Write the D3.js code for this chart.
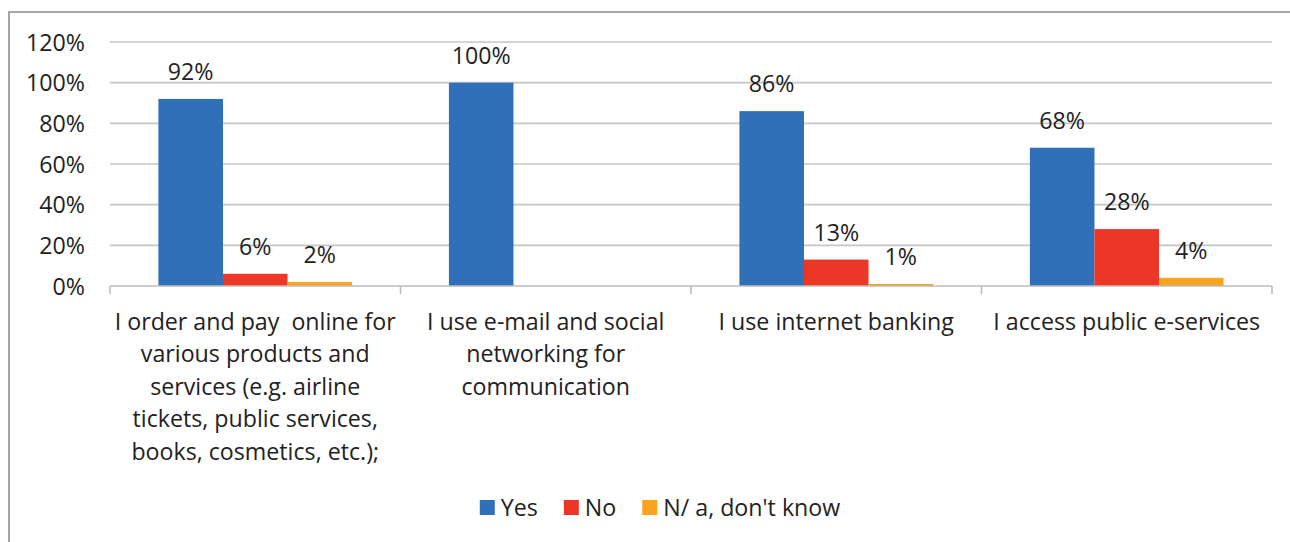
<!DOCTYPE html>
<html>
<head>
<meta charset="utf-8">
<script src="https://cdn.jsdelivr.net/npm/d3@7"></script>
<style>
  html, body { margin: 0; padding: 0; background: #fff; }
  svg { display: block; font-family: "Open Sans", "Noto Sans", sans-serif; }
</style>
</head>
<body>
<svg id="chart" width="1290" height="542"></svg>
<script>
// Survey answers per online activity (percent of respondents)
const categories = [
  ["I order and pay  online for", "various products and", "services (e.g. airline", "tickets, public services,", "books, cosmetics, etc.);"],
  ["I use e-mail and social", "networking for", "communication"],
  ["I use internet banking"],
  ["I access public e-services"]
];
const seriesNames = ["Yes", "No", "N/ a, don't know"];
const yesValues = [92, 100, 86, 68];
const noValues = [6, 0, 13, 28];
const naValues = [2, 0, 1, 4];
const yTicks = [0, 20, 40, 60, 80, 100, 120];
const colors = ["#3070b8", "#ec3726", "#f8a41f"];

const series = [yesValues, noValues, naValues];
const catKeys = categories.map((c, i) => "c" + i);

const svg = d3.select("#chart");
const plotLeft = 110, plotRight = 1272, plotTop = 42, plotBottom = 286;
const fontSize = 23.2;
const textColor = "#222";

// outer frame of the chart area (continues past the right and bottom edges)
svg.append("path")
  .attr("d", "M9,560 L9,12 L1300,12")
  .attr("fill", "none").attr("stroke", "#a6a6a6").attr("stroke-width", 2);

const y = d3.scaleLinear().domain([0, 120]).range([plotBottom, plotTop]);
const x0 = d3.scaleBand().domain(catKeys).range([plotLeft, plotRight]).paddingInner(0).paddingOuter(0);
const x1 = d3.scaleBand().domain(d3.range(series.length)).range([0, x0.bandwidth()]).paddingInner(0).paddingOuter(0.75);

// horizontal gridlines
svg.append("g").selectAll("line").data(yTicks.filter(t => t > 0)).join("line")
  .attr("x1", plotLeft).attr("x2", plotRight)
  .attr("y1", d => y(d)).attr("y2", d => y(d))
  .attr("stroke", "#c6c6c6").attr("stroke-width", 1.6);

// y tick labels
svg.append("g").selectAll("text").data(yTicks).join("text")
  .attr("x", 85).attr("y", d => y(d) + 8.5)
  .attr("text-anchor", "end")
  .attr("font-size", fontSize).attr("fill", textColor)
  .text(d => d + "%");

// bars with value labels
const groups = svg.append("g").selectAll("g").data(catKeys).join("g")
  .attr("transform", k => `translate(${x0(k)},0)`);

groups.each(function(k, ci) {
  const g = d3.select(this);
  series.forEach((vals, si) => {
    const v = vals[ci];
    if (v > 0) {
      g.append("rect")
        .attr("x", x1(si)).attr("width", x1.bandwidth())
        .attr("y", y(v)).attr("height", y(0) - y(v))
        .attr("fill", colors[si]);
      g.append("text")
        .attr("x", x1(si) + x1.bandwidth() / 2)
        .attr("y", y(v) - 19)
        .attr("text-anchor", "middle")
        .attr("font-size", fontSize).attr("fill", textColor)
        .text(v + "%");
    }
  });
});

// x axis line and category boundary ticks
svg.append("line")
  .attr("x1", plotLeft).attr("x2", plotRight).attr("y1", y(0)).attr("y2", y(0))
  .attr("stroke", "#bdbdbd").attr("stroke-width", 1.6);
const boundaries = catKeys.map(k => x0(k)).concat([plotRight]);
svg.append("g").selectAll("line").data(boundaries).join("line")
  .attr("x1", d => d).attr("x2", d => d)
  .attr("y1", y(0)).attr("y2", y(0) + 8)
  .attr("stroke", "#bdbdbd").attr("stroke-width", 1.6);

// category labels (multi-line, centred under each group)
const labels = svg.append("g").selectAll("text").data(catKeys).join("text")
  .attr("text-anchor", "middle")
  .attr("font-size", fontSize).attr("fill", textColor)
  .style("white-space", "pre");
labels.each(function(k, ci) {
  const t = d3.select(this);
  categories[ci].forEach((line, li) => {
    t.append("tspan")
      .attr("x", x0(k) + x0.bandwidth() / 2)
      .attr("y", 329.5 + li * 32.6)
      .text(line);
  });
});

// legend, centred under the chart area
const legend = svg.append("g");
let cursor = 0;
seriesNames.forEach((name, i) => {
  const item = legend.append("g");
  item.append("rect").attr("x", 0).attr("y", 500).attr("width", 15).attr("height", 15).attr("fill", colors[i]);
  const txt = item.append("text").attr("x", 21).attr("y", 515.5)
    .attr("font-size", fontSize).attr("fill", textColor).text(name);
  const w = 21 + txt.node().getComputedTextLength();
  item.attr("transform", `translate(${cursor},0)`);
  cursor += w + 26;
});
const legendWidth = cursor - 26;
legend.attr("transform", `translate(${660 - legendWidth / 2},0)`);
</script>
</body>
</html>
